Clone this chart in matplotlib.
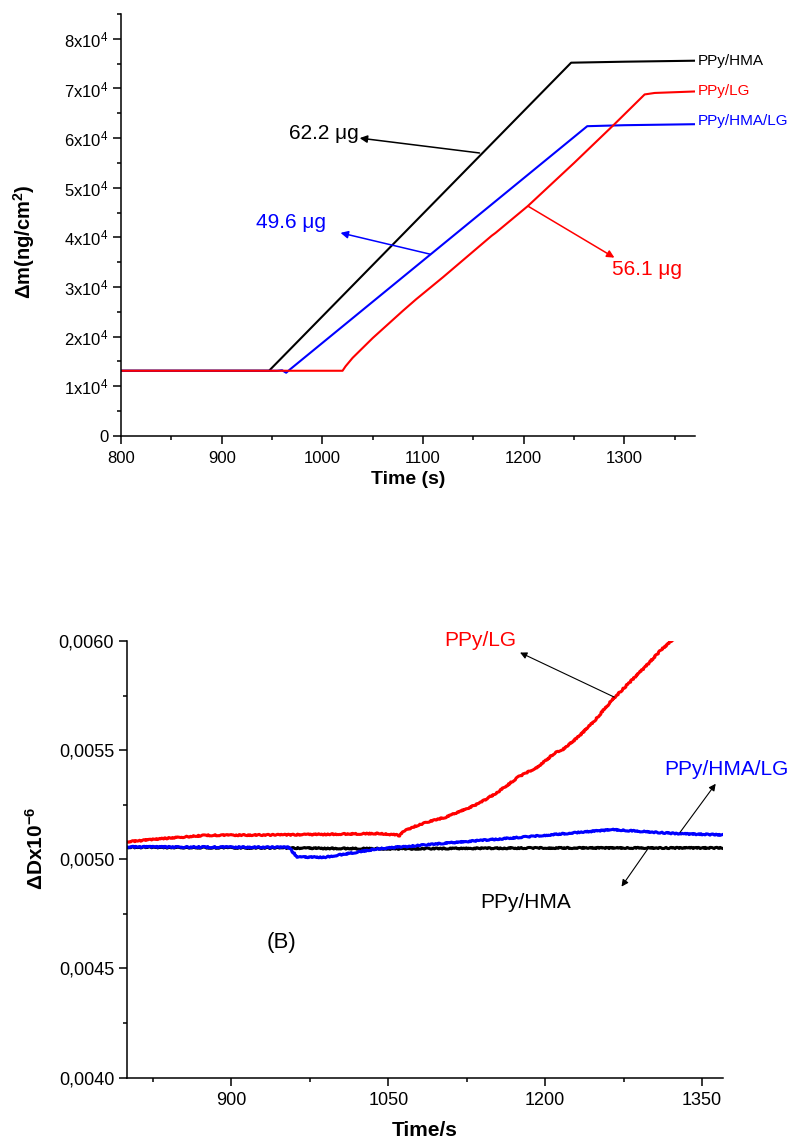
import matplotlib
matplotlib.use('Agg')
import matplotlib.pyplot as plt
from matplotlib.ticker import MultipleLocator, FixedLocator, FuncFormatter

plt.rcParams['font.family'] = ['Liberation Sans', 'DejaVu Sans']
plt.rcParams['mathtext.fontset'] = 'custom'
plt.rcParams['mathtext.rm'] = 'Liberation Sans'
plt.rcParams['mathtext.bf'] = 'Liberation Sans:bold'
plt.rcParams['mathtext.default'] = 'regular'

# ---- panel A: mass change (ng/cm2) vs time ----
t_hma = [800, 947, 1247, 1300, 1370]
m_hma = [1.31e4, 1.31e4, 7.52e4, 7.54e4, 7.56e4]

t_lg = [800, 1020, 1023, 1030, 1050, 1080, 1093, 1120, 1168, 1172, 1204, 1250, 1290, 1320, 1330, 1370]
m_lg = [1.31e4, 1.31e4, 1.40e4, 1.57e4, 1.97e4, 2.52e4, 2.75e4, 3.20e4, 4.03e4, 4.09e4,
        4.63e4, 5.50e4, 6.28e4, 6.88e4, 6.91e4, 6.94e4]

t_hma_lg = [800, 955, 960, 964, 968, 1263, 1300, 1370]
m_hma_lg = [1.31e4, 1.31e4, 1.32e4, 1.27e4, 1.34e4, 6.24e4, 6.26e4, 6.28e4]

# ---- panel B: dissipation vs time ----
tb_hma = [800, 950, 1050, 1200, 1370]
d_hma = [0.005055, 0.005052, 0.005048, 0.005052, 0.005052]

tb_hma_lg = [800, 955, 963, 990, 1040, 1105, 1185, 1264, 1328, 1370]
d_hma_lg = [0.005057, 0.005055, 0.005010, 0.005010, 0.005048, 0.005074, 0.005104,
            0.005136, 0.005117, 0.005112]

tb_lg = [800, 840, 876, 950, 1041, 1058, 1061, 1065, 1073, 1089, 1105, 1130, 1137,
         1153, 1162, 1175, 1191, 1200, 1211, 1215, 1232, 1248, 1264, 1280, 1296,
         1311, 1330]
d_lg = [0.005080, 0.005097, 0.005110, 0.005112, 0.005118, 0.005112, 0.005108, 0.005130,
        0.005147, 0.005173, 0.005193, 0.005242, 0.005257, 0.005303, 0.005333, 0.005379,
        0.005418, 0.005450, 0.005495, 0.005495, 0.005562, 0.005639, 0.005730, 0.005807,
        0.005883, 0.005960, 0.006040]

BLUE = '#0000ff'
RED = '#ff0000'

fig = plt.figure(figsize=(7.94, 11.44), dpi=100)

# top panel
ax1 = fig.add_axes([0.1524, 0.6191, 0.7229, 0.3686])
ax1.plot(t_hma, m_hma, color='black', lw=1.5)
ax1.plot(t_hma_lg, m_hma_lg, color=BLUE, lw=1.5)
ax1.plot(t_lg, m_lg, color=RED, lw=1.5)
ax1.set_xlim(800, 1370)
ax1.set_ylim(0, 8.5e4)
ax1.xaxis.set_major_locator(MultipleLocator(100))
ax1.xaxis.set_minor_locator(MultipleLocator(50))
ax1.yaxis.set_major_locator(MultipleLocator(1e4))
ax1.yaxis.set_minor_locator(MultipleLocator(5e3))


def sci_fmt(v, pos):
    n = int(round(v / 1e4))
    if n == 0:
        return '0'
    return '%dx10$^4$' % n


ax1.yaxis.set_major_formatter(FuncFormatter(sci_fmt))
ax1.set_xlabel('Time (s)', fontsize=14, fontweight='bold')
ax1.set_ylabel(r'$\Delta$m(ng/cm$^\mathbf{2}$)', fontsize=14.5, fontweight='bold')
ax1.xaxis.set_label_coords(0.5, -0.083)
ax1.yaxis.set_label_coords(-0.146, 0.46)

# end labels
ax1.text(1373, 7.55e4, 'PPy/HMA', color='black', fontsize=11, va='center', ha='left')
ax1.text(1373, 6.95e4, 'PPy/LG', color=RED, fontsize=11, va='center', ha='left')
ax1.text(1373, 6.34e4, 'PPy/HMA/LG', color=BLUE, fontsize=11, va='center', ha='left')

# mass annotations
arr = dict(arrowstyle='-|>', lw=1.1, mutation_scale=11, shrinkA=0, shrinkB=0)
ax1.annotate('', xy=(1037, 6.0e4), xytext=(1156, 5.70e4),
             arrowprops=dict(arr, color='black'))
ax1.text(1036, 5.99e4, '62.2 μg', color='black', fontsize=15, ha='right', va='baseline')
ax1.annotate('', xy=(1018, 4.09e4), xytext=(1107, 3.66e4),
             arrowprops=dict(arr, color=BLUE))
ax1.text(934, 4.18e4, '49.6 μg', color=BLUE, fontsize=15, ha='left', va='baseline')
ax1.annotate('', xy=(1290, 3.59e4), xytext=(1204, 4.63e4),
             arrowprops=dict(arr, color=RED))
ax1.text(1288, 3.24e4, '56.1 μg', color=RED, fontsize=15, ha='left', va='baseline')

# bottom panel
ax2 = fig.add_axes([0.1596, 0.0580, 0.7510, 0.3817])
for tt, dd, cc in ((tb_hma, d_hma, 'black'), (tb_hma_lg, d_hma_lg, BLUE), (tb_lg, d_lg, RED)):
    ln, = ax2.plot(tt, dd, color=cc, lw=2.2)
    ln.set_sketch_params(scale=0.6, length=3, randomness=4)
ax2.set_xlim(800, 1370)
ax2.set_ylim(0.0040, 0.0060)
ax2.xaxis.set_major_locator(FixedLocator([900, 1050, 1200, 1350]))
ax2.xaxis.set_minor_locator(FixedLocator([825, 975, 1125, 1275]))
ax2.yaxis.set_major_locator(MultipleLocator(0.0005))
ax2.yaxis.set_minor_locator(MultipleLocator(0.00025))
ax2.yaxis.set_major_formatter(FuncFormatter(lambda v, p: ('%.4f' % v).replace('.', ',')))
ax2.set_xlabel('Time/s', fontsize=15, fontweight='bold')
ax2.set_ylabel(r'$\Delta$Dx10$^{\mathbf{-6}}$', fontsize=15, fontweight='bold')
ax2.xaxis.set_label_coords(0.5, -0.100)
ax2.yaxis.set_label_coords(-0.134, 0.526)

thin = dict(arrowstyle='-|>', lw=0.8, color='black', mutation_scale=10, shrinkA=0, shrinkB=0)
ax2.annotate('', xy=(1176, 0.005947), xytext=(1266, 0.005743), arrowprops=thin)
ax2.text(1138, 0.0060, 'PPy/LG', color=RED, fontsize=15, ha='center', va='center')
ax2.annotate('', xy=(1363, 0.005346), xytext=(1329, 0.005124), arrowprops=thin)
ax2.text(1373, 0.00541, 'PPy/HMA/LG', color=BLUE, fontsize=15, ha='center', va='center')
ax2.annotate('', xy=(1273, 0.004875), xytext=(1298, 0.005047), arrowprops=thin)
ax2.text(1181, 0.004802, 'PPy/HMA', color='black', fontsize=15, ha='center', va='center')
ax2.text(948, 0.00462, '(B)', color='black', fontsize=16, ha='center', va='center')

for ax, fs in ((ax1, 12), (ax2, 13)):
    ax.spines['top'].set_visible(False)
    ax.spines['right'].set_visible(False)
    for s in ('left', 'bottom'):
        ax.spines[s].set_linewidth(1.1)
    ax.tick_params(which='major', direction='out', length=6, width=1.1, labelsize=fs, pad=3)
    ax.tick_params(which='minor', direction='out', length=3, width=1.1)

ax1.tick_params(axis='x', pad=5)
ax2.tick_params(axis='x', pad=4)

fig.savefig('out.png', dpi=100)
